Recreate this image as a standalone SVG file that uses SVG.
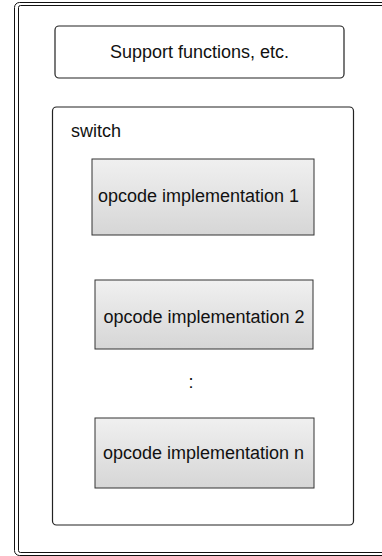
<svg xmlns="http://www.w3.org/2000/svg" width="382" height="556" viewBox="0 0 382 556">
  <style>
    .frame { fill: none; stroke: #111; stroke-width: 1; }
    .panel { fill: #fff; stroke: #222; stroke-width: 1.2; }
    .op { fill: url(#opFill); stroke: #333; stroke-width: 1; }
    .lbl { font-family: "Liberation Sans", Arial, sans-serif; font-size: 18px; fill: #111; }
    .mid { text-anchor: middle; }
  </style>
  <defs>
    <linearGradient id="opFill" x1="0" y1="0" x2="0" y2="1">
      <stop offset="0" stop-color="#f0f0f0"/>
      <stop offset="1" stop-color="#d6d6d6"/>
    </linearGradient>
  </defs>

  <!-- outer double frame, running past the right edge -->
  <g id="frame">
    <rect class="frame" x="14.5" y="2.5" width="400" height="553" rx="5"/>
    <rect class="frame" x="18.5" y="5.5" width="396" height="547" rx="2"/>
  </g>

  <g id="support">
    <rect class="panel" x="55" y="26" width="289" height="52" rx="4"/>
    <text class="lbl mid" x="199.5" y="58">Support functions, etc.</text>
  </g>

  <g id="switch">
    <rect class="panel" x="52.5" y="107" width="301" height="418" rx="4"/>
    <text class="lbl" x="71" y="137">switch</text>
  </g>

  <g id="op1">
    <rect class="op" x="92" y="159" width="222" height="76"/>
    <text class="lbl mid" x="198.5" y="202">opcode implementation 1</text>
  </g>

  <g id="op2">
    <rect class="op" x="95" y="280" width="218" height="69"/>
    <text class="lbl mid" x="204" y="323">opcode implementation 2</text>
  </g>

  <g id="ellipsis">
    <text class="lbl mid" x="191" y="388">:</text>
  </g>

  <g id="opn">
    <rect class="op" x="95" y="418" width="219" height="70"/>
    <text class="lbl mid" x="203.5" y="459">opcode implementation n</text>
  </g>

  <g id="connectors"/>
</svg>
